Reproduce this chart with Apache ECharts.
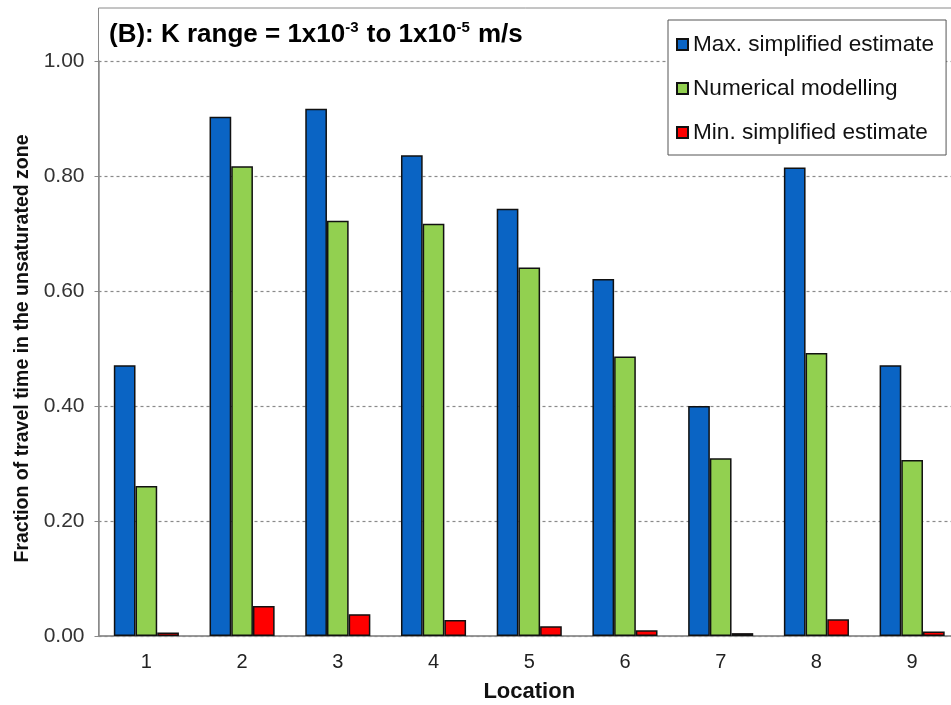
<!DOCTYPE html>
<html>
<head>
<meta charset="utf-8">
<script src="https://cdn.jsdelivr.net/npm/echarts@6/dist/echarts.min.js"></script>
<style>
  html, body { margin: 0; padding: 0; background: #fff; }
  #chart { width: 951px; height: 705px; }
</style>
</head>
<body>
<div id="chart"></div>
<script>
// Locations along the x axis
const locations = ['1', '2', '3', '4', '5', '6', '7', '8', '9'];

// Fraction of travel time spent in the unsaturated zone
const maxSimplified = [0.471, 0.903, 0.917, 0.836, 0.743, 0.621, 0.400, 0.815, 0.471];
const numerical     = [0.261, 0.817, 0.722, 0.717, 0.641, 0.486, 0.309, 0.492, 0.306];
const minSimplified = [0.006, 0.052, 0.038, 0.028, 0.017, 0.010, 0.005, 0.029, 0.008];

const seriesNames = ['Max. simplified estimate', 'Numerical modelling', 'Min. simplified estimate'];
const seriesColors = ['#0a64c4', '#92d050', '#ff0000'];

const FONT = 'Liberation Sans, Arial, sans-serif';
const GRID = { left: 98.5, top: 61, width: 861.5, height: 575 };

const chart = echarts.init(document.getElementById('chart'), null, { renderer: 'canvas' });

function barSeries(name, data, color) {
  return {
    name: name,
    type: 'bar',
    data: data,
    barGap: '0%',
    barCategoryGap: '32%',
    itemStyle: { color: color, borderColor: '#111', borderWidth: 1.5 }
  };
}

chart.setOption({
  animation: false,
  backgroundColor: '#fff',
  textStyle: { fontFamily: FONT },
  title: {
    left: 104,
    top: 15,
    text: '{b|(B): K range = 1x10}{s|-3}{b| to 1x10}{s|-5}{b| m/s}',
    textStyle: {
      rich: {
        b: { fontFamily: FONT, fontSize: 26, fontWeight: 'bold', color: '#000', lineHeight: 30 },
        s: { fontFamily: FONT, fontSize: 15, fontWeight: 'bold', color: '#000', verticalAlign: 'top', lineHeight: 30, padding: [0, 1, 0, 0] }
      }
    }
  },
  legend: {
    orient: 'vertical',
    left: 668,
    top: 20,
    padding: [13, 12, 11, 8],
    itemGap: 21,
    itemWidth: 11,
    itemHeight: 11,
    itemTextGap: 4,
    icon: 'rect',
    borderColor: '#555',
    borderWidth: 1,
    backgroundColor: '#fff',
    textStyle: { fontFamily: FONT, fontSize: 22.6, color: '#111', lineHeight: 23 },
    data: seriesNames
  },
  graphic: [{
    type: 'rect',
    silent: true,
    z: -1,
    shape: { x: GRID.left, y: 8, width: GRID.width, height: GRID.top + GRID.height - 8 },
    style: { fill: 'none', stroke: '#8a8a8a', lineWidth: 1 }
  }],
  grid: Object.assign({ outerBoundsMode: 'none', containLabel: false }, GRID),
  xAxis: {
    type: 'category',
    data: locations,
    name: 'Location',
    nameLocation: 'middle',
    nameGap: 45,
    nameTextStyle: { fontFamily: FONT, fontSize: 22, fontWeight: 'bold', color: '#111' },
    axisLine: { lineStyle: { color: '#8a8a8a', width: 1.5 } },
    axisTick: { inside: true, length: 6, lineStyle: { color: '#8a8a8a' } },
    axisLabel: { fontFamily: FONT, fontSize: 20, color: '#222', margin: 16 }
  },
  yAxis: {
    type: 'value',
    min: 0,
    max: 1,
    interval: 0.2,
    name: 'Fraction of travel time in the unsaturated zone',
    nameLocation: 'middle',
    nameRotate: 90,
    nameGap: 66,
    nameTextStyle: { fontFamily: FONT, fontSize: 19.5, fontWeight: 'bold', color: '#111' },
    axisLine: { show: true, lineStyle: { color: '#8a8a8a', width: 1.5 } },
    axisTick: { show: true, length: 4, lineStyle: { color: '#8a8a8a' } },
    axisLabel: {
      fontFamily: FONT, fontSize: 21, color: '#333', margin: 14,
      formatter: v => v.toFixed(2)
    },
    splitLine: { lineStyle: { color: '#8a8a8a', type: [3, 3], width: 1.2 } }
  },
  series: [
    barSeries(seriesNames[0], maxSimplified, seriesColors[0]),
    barSeries(seriesNames[1], numerical, seriesColors[1]),
    barSeries(seriesNames[2], minSimplified, seriesColors[2])
  ]
});
</script>
</body>
</html>
